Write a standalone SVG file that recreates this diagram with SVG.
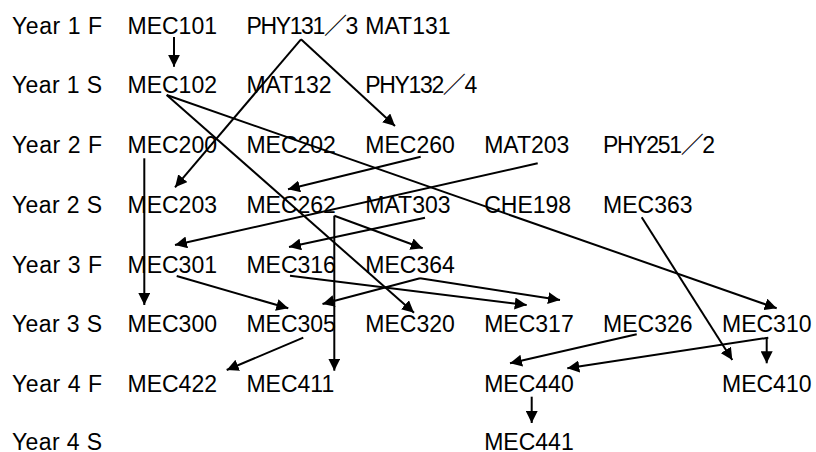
<svg xmlns="http://www.w3.org/2000/svg" width="816" height="452" viewBox="0 0 816 452">
  <defs>
    <style>
      text { font-family: "Liberation Sans", "Noto Sans CJK JP", Arial, sans-serif; font-size: 23px; fill: #000; }
      .link { stroke: #000; stroke-width: 2; fill: none; marker-end: url(#head); }
    </style>
    <marker id="head" viewBox="0 0 12 12" refX="12" refY="6" markerWidth="12" markerHeight="12" markerUnits="userSpaceOnUse" orient="auto">
      <path d="M0,0 L12,6 L0,12 Z" fill="#000"/>
    </marker>
  </defs>
  <rect width="816" height="452" fill="#fff"/>

  <!-- semester labels -->
  <g id="semesters">
    <text x="12" y="33.5" textLength="90" lengthAdjust="spacing">Year 1 F</text>
    <text x="12" y="93.3" textLength="90" lengthAdjust="spacing">Year 1 S</text>
    <text x="12" y="153" textLength="90" lengthAdjust="spacing">Year 2 F</text>
    <text x="12" y="212.8" textLength="90" lengthAdjust="spacing">Year 2 S</text>
    <text x="12" y="272.5" textLength="90" lengthAdjust="spacing">Year 3 F</text>
    <text x="12" y="332.3" textLength="90" lengthAdjust="spacing">Year 3 S</text>
    <text x="12" y="392" textLength="90" lengthAdjust="spacing">Year 4 F</text>
    <text x="12" y="450" textLength="90" lengthAdjust="spacing">Year 4 S</text>
  </g>

  <!-- courses: Year 1 F -->
  <g id="MEC101"><text x="127.5" y="33.5">MEC101</text></g>
  <g id="PHY131_3"><text x="246.4" y="33.5" textLength="112" lengthAdjust="spacing">PHY131／3</text></g>
  <g id="MAT131"><text x="365.3" y="33.5">MAT131</text></g>

  <!-- Year 1 S -->
  <g id="MEC102"><text x="127.5" y="93.3">MEC102</text></g>
  <g id="MAT132"><text x="246.4" y="93.3">MAT132</text></g>
  <g id="PHY132_4"><text x="365.3" y="93.3" textLength="112" lengthAdjust="spacing">PHY132／4</text></g>

  <!-- Year 2 F -->
  <g id="MEC200"><text x="127.5" y="153">MEC200</text></g>
  <g id="MEC202"><text x="246.4" y="153">MEC202</text></g>
  <g id="MEC260"><text x="365.3" y="153">MEC260</text></g>
  <g id="MAT203"><text x="484.2" y="153">MAT203</text></g>
  <g id="PHY251_2"><text x="603.1" y="153" textLength="112" lengthAdjust="spacing">PHY251／2</text></g>

  <!-- Year 2 S -->
  <g id="MEC203"><text x="127.5" y="212.8">MEC203</text></g>
  <g id="MEC262"><text x="246.4" y="212.8">MEC262</text></g>
  <g id="MAT303"><text x="365.3" y="212.8">MAT303</text></g>
  <g id="CHE198"><text x="484.2" y="212.8">CHE198</text></g>
  <g id="MEC363"><text x="603.1" y="212.8">MEC363</text></g>

  <!-- Year 3 F -->
  <g id="MEC301"><text x="127.5" y="272.5">MEC301</text></g>
  <g id="MEC316"><text x="246.4" y="272.5">MEC316</text></g>
  <g id="MEC364"><text x="365.3" y="272.5">MEC364</text></g>

  <!-- Year 3 S -->
  <g id="MEC300"><text x="127.5" y="332.3">MEC300</text></g>
  <g id="MEC305"><text x="246.4" y="332.3">MEC305</text></g>
  <g id="MEC320"><text x="365.3" y="332.3">MEC320</text></g>
  <g id="MEC317"><text x="484.2" y="332.3">MEC317</text></g>
  <g id="MEC326"><text x="603.1" y="332.3">MEC326</text></g>
  <g id="MEC310"><text x="722" y="332.3">MEC310</text></g>

  <!-- Year 4 F -->
  <g id="MEC422"><text x="127.5" y="392">MEC422</text></g>
  <g id="MEC411"><text x="246.4" y="392">MEC411</text></g>
  <g id="MEC440"><text x="484.2" y="392">MEC440</text></g>
  <g id="MEC410"><text x="722" y="392">MEC410</text></g>

  <!-- Year 4 S -->
  <g id="MEC441"><text x="484.2" y="450">MEC441</text></g>

  <!-- prerequisite arrows -->
  <g id="connectors">
    <line class="link" x1="174" y1="37" x2="174" y2="66.7"/>
    <line class="link" x1="301" y1="39.3" x2="175" y2="187.3"/>
    <line class="link" x1="301" y1="39.3" x2="395" y2="126"/>
    <line class="link" x1="166.7" y1="95" x2="414" y2="312.7"/>
    <line class="link" x1="166.7" y1="95" x2="776.7" y2="308.3"/>
    <line class="link" x1="144.3" y1="158.3" x2="144.3" y2="305"/>
    <line class="link" x1="420.7" y1="156.7" x2="288" y2="189.3"/>
    <line class="link" x1="537.7" y1="163.3" x2="175" y2="245"/>
    <line class="link" x1="334.3" y1="215.7" x2="334.3" y2="370.7"/>
    <line class="link" x1="334.3" y1="215.7" x2="422.7" y2="248.3"/>
    <line class="link" x1="425" y1="217.7" x2="289" y2="247"/>
    <line class="link" x1="641.7" y1="217.3" x2="732.3" y2="360"/>
    <line class="link" x1="176.7" y1="276" x2="288.3" y2="308.3"/>
    <line class="link" x1="290" y1="275.7" x2="526.7" y2="305"/>
    <line class="link" x1="420" y1="278.3" x2="322.5" y2="304"/>
    <line class="link" x1="420" y1="278.3" x2="560" y2="300"/>
    <line class="link" x1="303.3" y1="337.7" x2="226.7" y2="370"/>
    <line class="link" x1="636.7" y1="334.3" x2="510" y2="363.3"/>
    <line class="link" x1="768.3" y1="337.7" x2="567.3" y2="368.3"/>
    <line class="link" x1="766.7" y1="337" x2="766.7" y2="363.3"/>
    <line class="link" x1="531.7" y1="396.7" x2="531.7" y2="423"/>
  </g>
</svg>
